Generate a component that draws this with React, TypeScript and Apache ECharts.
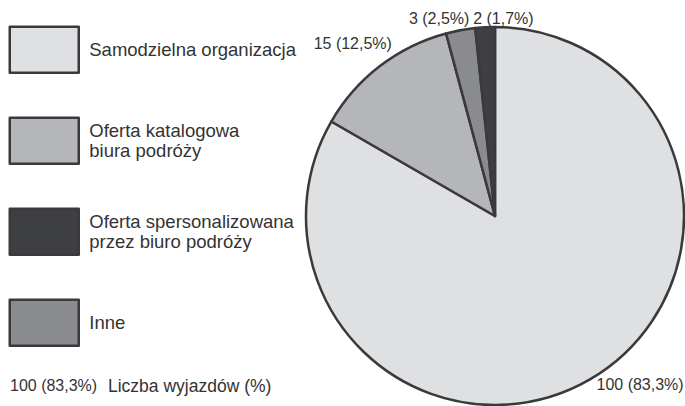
import React, { useEffect, useRef } from "react";
import * as echarts from "echarts";

const categories = [
  "Samodzielna organizacja",
  "Oferta katalogowa biura podróży",
  "Inne",
  "Oferta spersonalizowana przez biuro podróży",
];
const values = [100, 15, 3, 2];
const colors = ["#dfe0e2", "#b5b6b9", "#8a8b8e", "#3e3f42"];
const legendOrder = [
  "Samodzielna organizacja",
  "Oferta katalogowa biura podróży",
  "Oferta spersonalizowana przez biuro podróży",
  "Inne",
];
const legendLabels: Record<string, string> = {
  "Samodzielna organizacja": "Samodzielna organizacja",
  "Oferta katalogowa biura podróży": "Oferta katalogowa\nbiura podróży",
  "Oferta spersonalizowana przez biuro podróży": "Oferta spersonalizowana\nprzez biuro podróży",
  Inne: "Inne",
};
const noteValue = "100 (83,3%)";
const noteText = "Liczba wyjazdów (%)";

// label placement tuning (line lengths, px)
const labelLen1 = [6, 28, 12, 9];
const labelLen2 = [-1, -34, -16, -54];

const FONT = "Liberation Sans";
const TEXT = "#333333";
const BORDER = "#3a3a3c";

export default function App() {
  const ref = useRef<HTMLDivElement>(null);
  useEffect(() => {
    if (!ref.current) return;
    const chart = echarts.init(ref.current, undefined, { renderer: "svg" });
    chart.setOption({
      animation: false,
      backgroundColor: "#ffffff",
      textStyle: { fontFamily: FONT },
      legend: {
        orient: "vertical",
        left: 8.5,
        top: 25.5,
        padding: 0,
        itemWidth: 69,
        itemHeight: 46,
        itemGap: 42.5,
        icon: "rect",
        selectedMode: false,
        data: legendOrder,
        formatter: (name: string) => legendLabels[name] ?? name,
        itemStyle: { borderColor: BORDER, borderWidth: 2.5 },
        textStyle: {
          fontFamily: FONT,
          fontSize: 18.5,
          lineHeight: 20,
          color: TEXT,
          padding: [0, 0, 0, 5.5],
        },
      },
      graphic: [
        {
          type: "text",
          left: 10,
          top: 377,
          style: { text: noteValue, fontFamily: FONT, fontSize: 16, fill: TEXT },
        },
        {
          type: "text",
          left: 108,
          top: 376.5,
          style: { text: noteText, fontFamily: FONT, fontSize: 17.5, fill: TEXT },
        },
      ],
      series: [
        {
          type: "pie",
          center: [495, 216],
          radius: 189,
          startAngle: 90,
          clockwise: true,
          avoidLabelOverlap: false,
          emphasis: { disabled: true },
          itemStyle: { borderColor: BORDER, borderWidth: 2.5, borderJoin: "round" },
          label: {
            show: true,
            position: "outside",
            fontFamily: FONT,
            fontSize: 16,
            color: TEXT,
            formatter: (p: any) =>
              `${p.value} (${p.percent.toFixed(1).replace(".", ",")}%)`,
          },
          labelLine: { show: false },
          data: categories.map((name, i) => ({
            name,
            value: values[i],
            itemStyle: { color: colors[i] },
            labelLine: { show: false, length: labelLen1[i], length2: labelLen2[i] },
          })),
        },
      ],
    });
    return () => chart.dispose();
  }, []);
  return (
    <div
      ref={ref}
      style={{ position: "fixed", left: 0, top: 0, width: 685, height: 406 }}
    />
  );
}
